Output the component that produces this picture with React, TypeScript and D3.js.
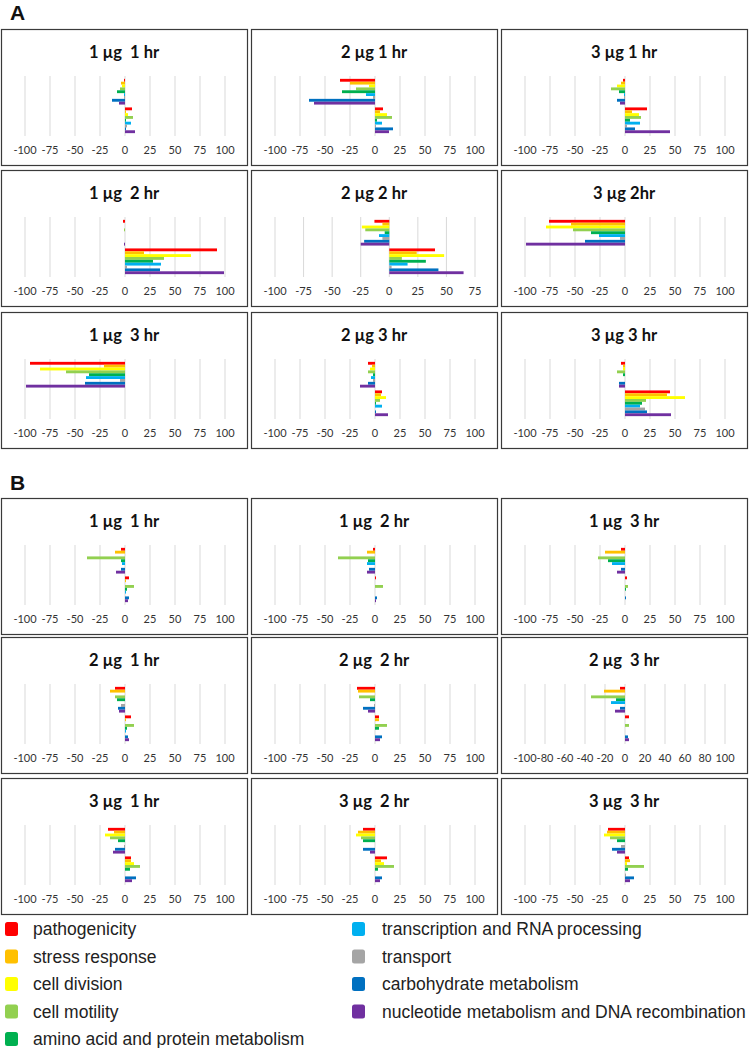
import React from "react";
import * as d3 from "d3";

const categories = [
  "pathogenicity",
  "stress response",
  "cell division",
  "cell motility",
  "amino acid and protein metabolism",
  "transcription and RNA processing",
  "transport",
  "carbohydrate metabolism",
  "nucleotide metabolism and DNA recombination",
];
const colors = ["#FF0000", "#FFC000", "#FFFF00", "#92D050", "#00B050", "#00B0F0", "#A5A5A5", "#0070C0", "#7030A0"];

const titlesA = ["1 µg  1 hr", "2 µg 1 hr", "3 µg 1 hr", "1 µg  2 hr", "2 µg 2 hr", "3 µg 2hr", "1 µg  3 hr", "2 µg 3 hr", "3 µg 3 hr"];
const titlesB = ["1 µg  1 hr", "1 µg  2 hr", "1 µg  3 hr", "2 µg  1 hr", "2 µg  2 hr", "2 µg  3 hr", "3 µg  1 hr", "3 µg  2 hr", "3 µg  3 hr"];

const ticks25 = [-100, -75, -50, -25, 0, 25, 50, 75, 100];
const ticks25short = [-100, -75, -50, -25, 0, 25, 50, 75];
const ticks20 = [-100, -80, -60, -40, -20, 0, 20, 40, 60, 80, 100];

// Panel A values (order: categories)
const a1Down = [-1, -4, -3, -5, -8, -1, -1, -13, -6];
const a1Up = [7, 1, 3, 8, 1, 6, 2, 1, 10];
const a2Down = [-35, -25, -6, -19, -33, -9, -2, -66, -61];
const a2Up = [8, 5, 12, 17, 2, 7, 1, 18, 14];
const a3Down = [-2, -4, -8, -14, -6, -1, -1, -8, -5];
const a3Up = [22, 7, 14, 16, 5, 15, 2, 10, 45];
const a4Down = [-2, 0, 0, -1, 0, 0, 0, 0, -1];
const a4Up = [92, 19, 66, 39, 28, 36, 2, 35, 99];
const a5Down = [-13, -6, -24, -21, -4, -9, -6, -22, -25];
const a5Up = [40, 24, 48, 11, 32, 16, 2, 43, 65];
const a6Down = [-76, -54, -79, -52, -34, -26, -5, -40, -99];
const a6Up = [0, 0, 0, 0, 0, 0, 0, 0, 0];
const a7Down = [-95, -21, -85, -59, -36, -39, -5, -40, -99];
const a7Up = [0, 0, 0, 0, 0, 0, 0, 0, 0];
const a8Down = [-7, -3, -5, -7, -2, -4, -2, -7, -15];
const a8Up = [7, 6, 11, 5, 1, 7, 0, 1, 13];
const a9Down = [-4, -2, -2, -8, -2, 0, 0, -6, -6];
const a9Up = [45, 42, 60, 21, 17, 15, 20, 22, 46];

// Panel B values
const b1Down = [-4, -10, 0, -38, -4, -3, 0, -4, -9];
const b1Up = [4, 1, 0, 9, 2, 1, 0, 4, 3];
const b2Down = [-2, -8, 0, -37, -7, -8, 0, -6, -8];
const b2Up = [1, 0, 0, 8, 0, 0, 0, 2, 1];
const b3Down = [-4, -20, 0, -27, -17, -13, 0, -4, -8];
const b3Up = [2, 0, 0, 3, 1, 0, 0, 1, 0];
const b4Down = [-10, -15, 0, -10, -8, 0, -4, -7, -6];
const b4Up = [6, 1, 0, 9, 2, 1, 0, 3, 4];
const b5Down = [-18, -17, 0, -16, -5, 0, -1, -12, -7];
const b5Up = [4, 4, 0, 12, 4, 0, 0, 7, 5];
const b6Down = [-5, -21, 0, -34, -9, -14, 0, -5, -10];
const b6Up = [4, 0, 0, 4, 0, 0, 0, 3, 4];
const b7Down = [-17, -11, -20, -15, -7, 0, -1, -10, -12];
const b7Up = [6, 6, 9, 15, 5, 0, 0, 11, 7];
const b8Down = [-12, -17, -19, -14, -12, 0, 0, -12, -5];
const b8Up = [12, 6, 9, 19, 3, 0, 0, 7, 5];
const b9Down = [-17, -18, -21, -15, -8, 0, -4, -13, -8];
const b9Up = [4, 5, 2, 19, 3, 0, 1, 9, 5];

const downA = [a1Down, a2Down, a3Down, a4Down, a5Down, a6Down, a7Down, a8Down, a9Down];
const upA = [a1Up, a2Up, a3Up, a4Up, a5Up, a6Up, a7Up, a8Up, a9Up];
const ticksA = [ticks25, ticks25, ticks25, ticks25, ticks25short, ticks25, ticks25, ticks25, ticks25];
const downB = [b1Down, b2Down, b3Down, b4Down, b5Down, b6Down, b7Down, b8Down, b9Down];
const upB = [b1Up, b2Up, b3Up, b4Up, b5Up, b6Up, b7Up, b8Up, b9Up];
const ticksB = [ticks25, ticks25, ticks25, ticks25, ticks25, ticks20, ticks25, ticks25, ticks25];

const colX = [1, 251, 501];
const rowYA = [29, 170, 312];
const rowYB = [498, 637, 778];
const PW = 246;
const PH = 136;

function Panel({ x, y, title, down, up, ticks }: any) {
  const xs = d3.scaleLinear().domain([ticks[0], ticks[ticks.length - 1]]).range([x + 24, x + 224]);
  const group = d3.scaleBand<string>().domain(["down", "up"]).range([y + 47, y + 107]).paddingInner(0.1).paddingOuter(0.1);
  const sub = d3.scaleBand<number>().domain(d3.range(categories.length)).range([0, group.bandwidth()]);
  const groups: [string, number[]][] = [["down", down], ["up", up]];
  return (
    <g>
      <rect x={x + 0.5} y={y + 0.5} width={PW} height={PH} fill="#fff" stroke="#3a3a3a" strokeWidth={1.2} />
      <text x={x + PW / 2} y={y + 29} textAnchor="middle" fontFamily="Lato, 'Open Sans', sans-serif" fontWeight="bold" fontSize={16.5} fill="#111" style={{ whiteSpace: "pre" }}>
        {title}
      </text>
      {ticks.map((t: number) => (
        <line key={"g" + t} x1={xs(t)} x2={xs(t)} y1={y + 47} y2={y + 107} stroke="#D9D9D9" strokeWidth={1} />
      ))}
      {groups.map(([g, vals]) =>
        vals.map((v, i) =>
          v === 0 ? null : (
            <rect
              key={g + i}
              x={Math.min(xs(0), xs(v))}
              y={(group(g) as number) + (sub(i) as number)}
              width={Math.abs(xs(v) - xs(0))}
              height={sub.bandwidth()}
              fill={colors[i]}
            />
          )
        )
      )}
      {ticks.map((t: number) => (
        <text key={"t" + t} x={xs(t)} y={y + 125} textAnchor="middle" fontFamily="Lato, sans-serif" fontSize={11} fill="#333">
          {t < 0 ? "-" + Math.abs(t) : String(t)}
        </text>
      ))}
    </g>
  );
}

export default function App() {
  const legendRows = [929, 956.5, 984, 1011.5, 1039];
  return (
    <svg width={750} height={1048} style={{ position: "absolute", left: 0, top: 0, background: "#fff" }}>
      <rect x={0} y={0} width={750} height={1048} fill="#fff" />
      <text x={10} y={20} fontFamily="'Liberation Sans', Arial, sans-serif" fontWeight="bold" fontSize={21} fill="#111">A</text>
      <text x={10} y={490} fontFamily="'Liberation Sans', Arial, sans-serif" fontWeight="bold" fontSize={21} fill="#111">B</text>
      {titlesA.map((t, k) => (
        <Panel key={"A" + k} x={colX[k % 3]} y={rowYA[Math.floor(k / 3)]} title={t} down={downA[k]} up={upA[k]} ticks={ticksA[k]} />
      ))}
      {titlesB.map((t, k) => (
        <Panel key={"B" + k} x={colX[k % 3]} y={rowYB[Math.floor(k / 3)]} title={t} down={downB[k]} up={upB[k]} ticks={ticksB[k]} />
      ))}
      {categories.map((c, i) => {
        const left = i < 5;
        const row = left ? i : i - 5;
        const cy = legendRows[row];
        const sx = left ? 5 : 352;
        const tx = left ? 33 : 382;
        return (
          <g key={c}>
            <rect x={sx} y={cy - 7} width={13} height={14} rx={2.5} fill={colors[i]} />
            <text x={tx} y={cy + 6} fontFamily="'Liberation Sans', Arial, sans-serif" fontSize={17.5} fill="#222">
              {c}
            </text>
          </g>
        );
      })}
    </svg>
  );
}
